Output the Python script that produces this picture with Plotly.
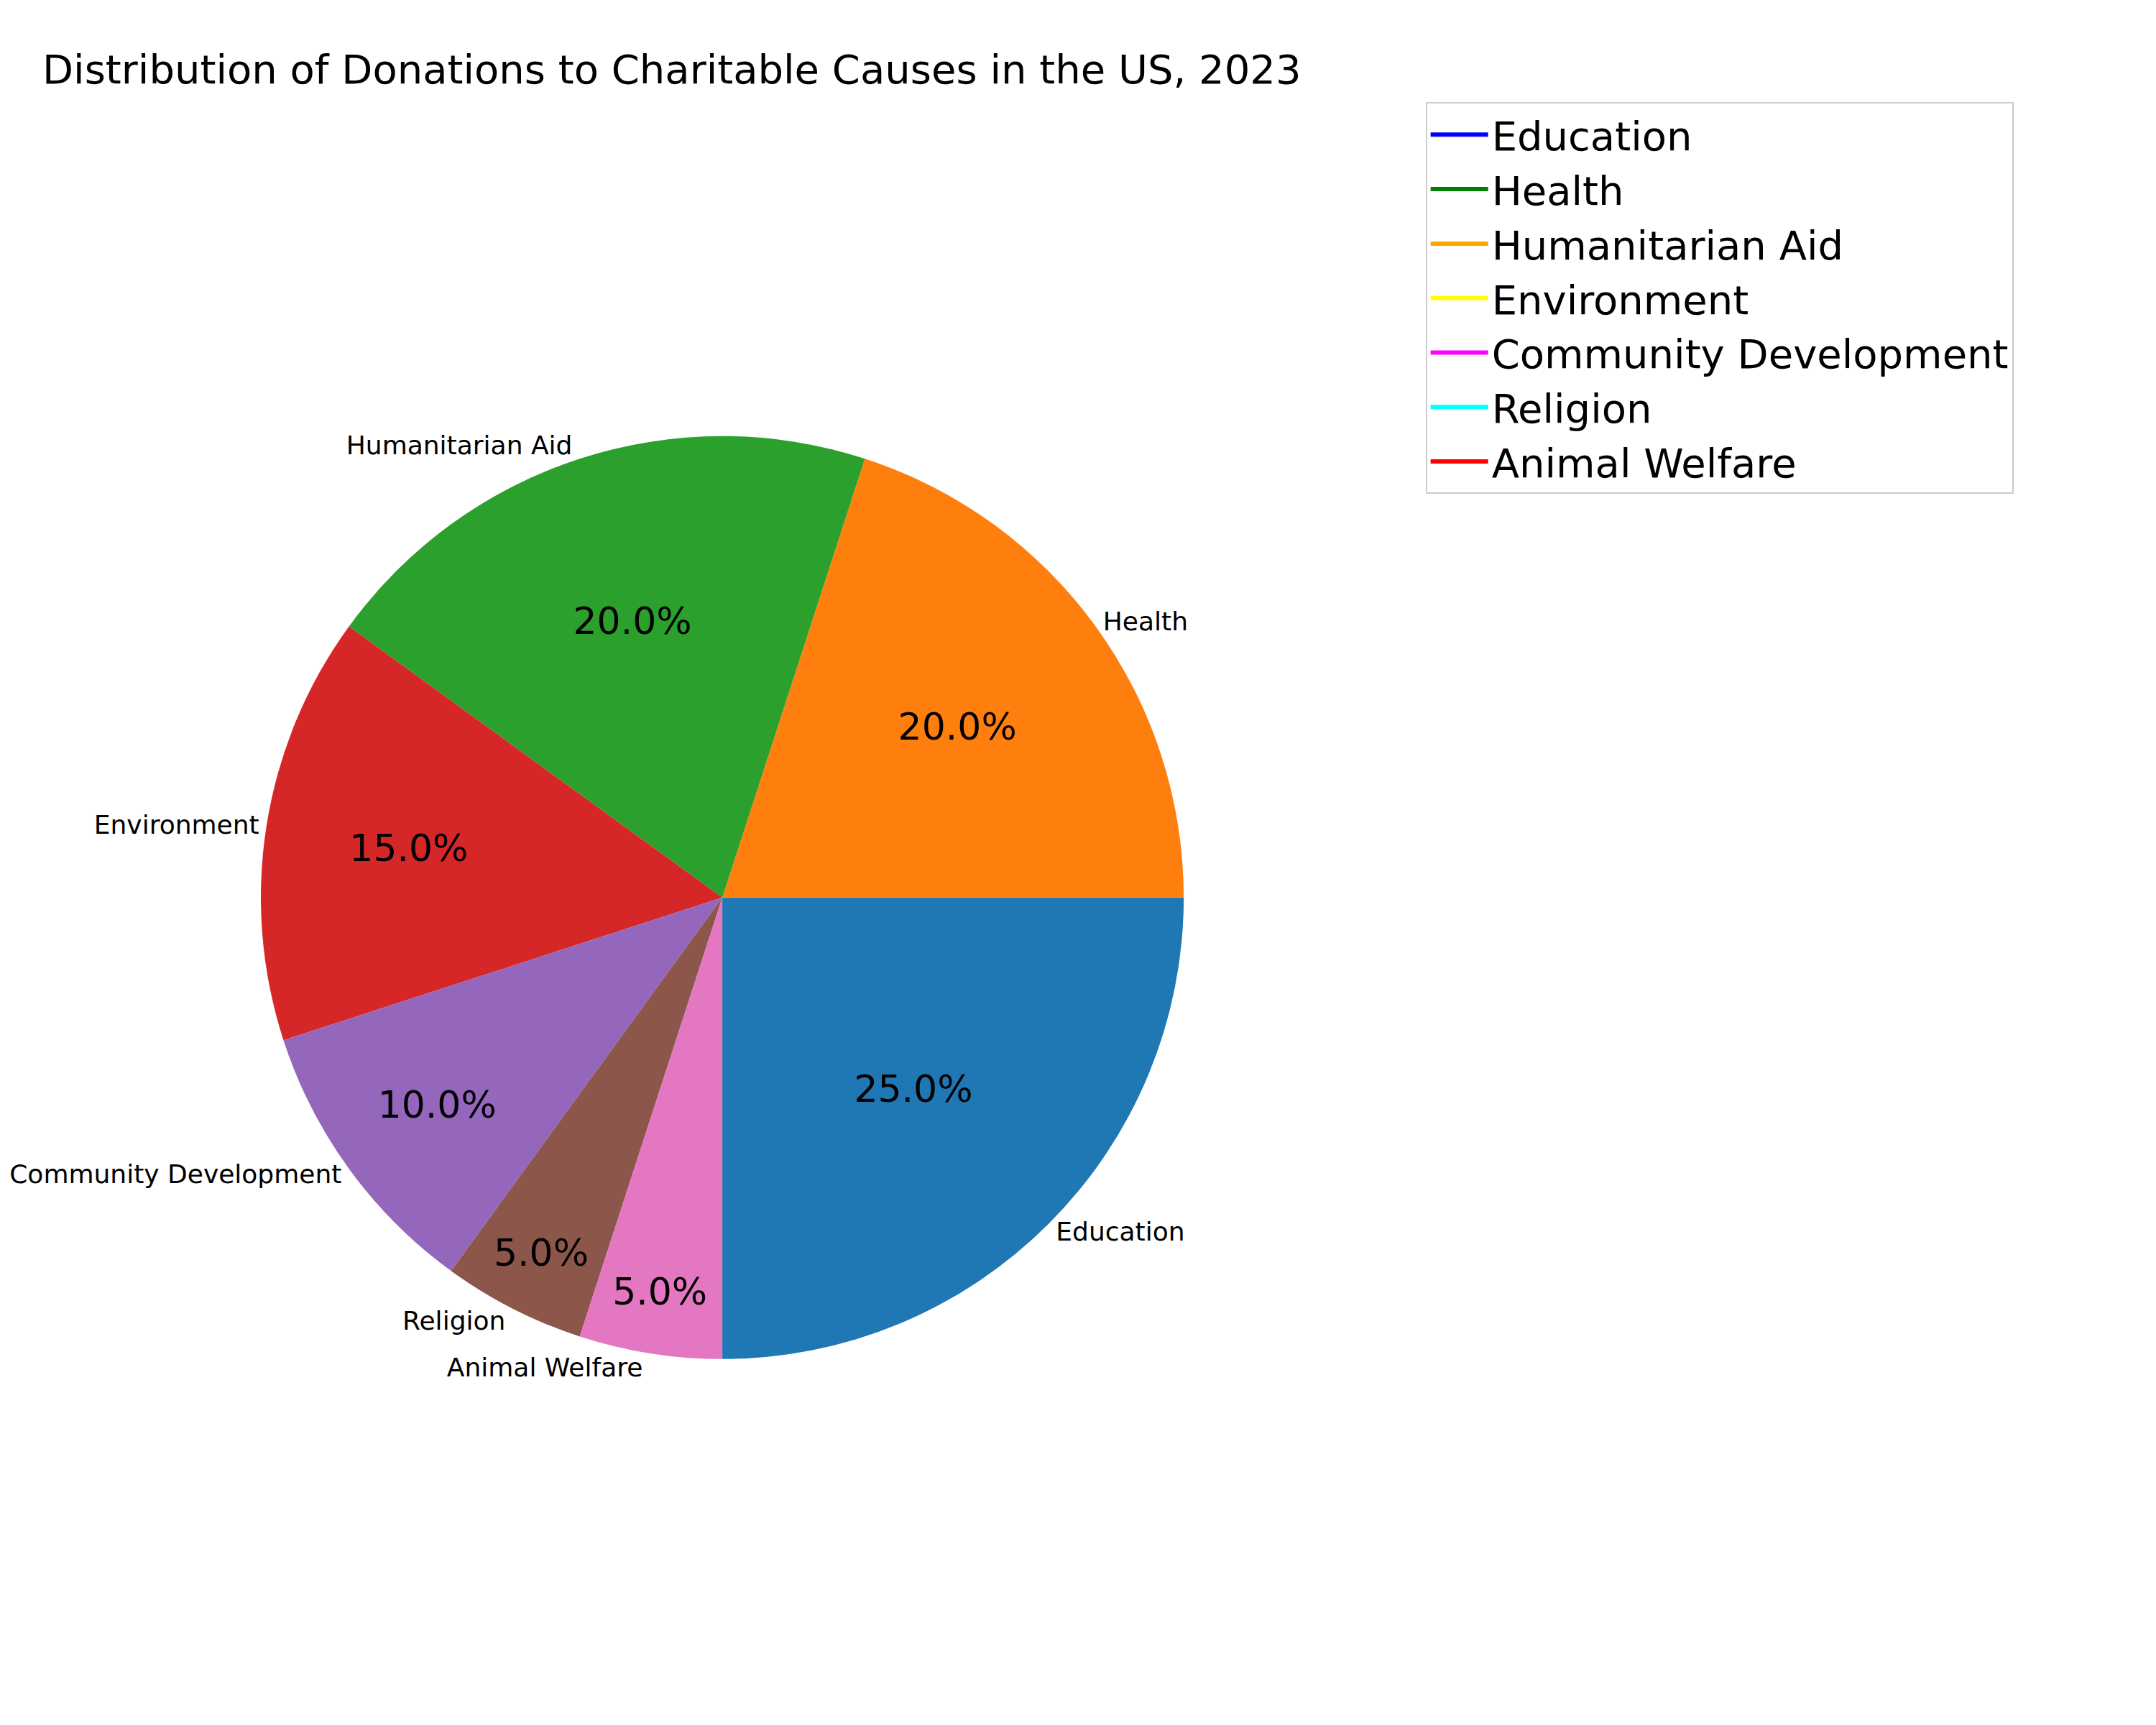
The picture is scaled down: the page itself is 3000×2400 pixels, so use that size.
import plotly.graph_objects as go

causes = ["Education", "Health", "Humanitarian Aid", "Environment",
          "Community Development", "Religion", "Animal Welfare"]
shares = [25, 20, 20, 15, 10, 5, 5]
slice_colors = ["#1f77b4", "#ff7f0e", "#2ca02c", "#d62728", "#9467bd", "#8c564b", "#e377c2"]
legend_colors = ["blue", "green", "orange", "yellow", "magenta", "cyan", "red"]

dom = dict(x=[0.104, 0.539], y=[0.211, 0.755])

fig = go.Figure()
# slices with percentages inside
fig.add_trace(go.Pie(
    labels=causes, values=shares, sort=False, direction="counterclockwise", rotation=90,
    marker=dict(colors=slice_colors), textinfo="percent", texttemplate="%{percent:.1%}",
    textposition="inside", insidetextorientation="horizontal",
    textfont=dict(size=52, color="black"), showlegend=False, domain=dom, hoverinfo="skip",
))
# transparent copy carrying the outside category labels
fig.add_trace(go.Pie(
    labels=causes, values=shares, sort=False, direction="counterclockwise", rotation=90,
    marker=dict(colors=["rgba(0,0,0,0)"] * len(causes)), textinfo="label",
    textposition="outside", textfont=dict(size=36, color="black"),
    showlegend=False, domain=dom, hoverinfo="skip",
))
# legend entries (colours deliberately differ from slices, as in the source)
for name, col in zip(causes, legend_colors):
    fig.add_trace(go.Scatter(x=[None], y=[None], name=name, mode="none",
                             fill="toself", fillcolor=col))

fig.update_layout(
    width=3000, height=2400, paper_bgcolor="white", plot_bgcolor="white",
    margin=dict(l=0, r=0, t=0, b=0),
    font=dict(family="DejaVu Sans", color="black"),
    title=dict(text="Distribution of Donations to Charitable Causes in the US, 2023",
               x=0.017, xanchor="left", y=0.963, yanchor="middle", font=dict(size=56)),
    xaxis=dict(visible=False, domain=[0.9, 1]), yaxis=dict(visible=False),
    legend=dict(x=0.653, y=0.944, xanchor="left", yanchor="top", font=dict(size=56),
                bordercolor="#cccccc", borderwidth=2, itemwidth=80, tracegroupgap=0),
)

fig.write_html("out.html")
